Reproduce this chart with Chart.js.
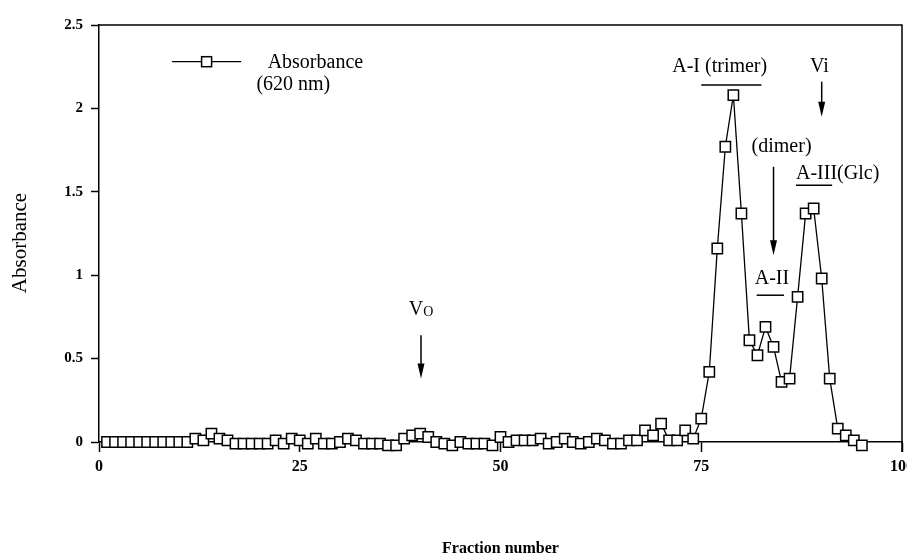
<!DOCTYPE html>
<html><head><meta charset="utf-8">
<script src="https://cdn.jsdelivr.net/npm/chart.js@4/dist/chart.umd.min.js"></script>
<style>html,body{margin:0;padding:0;background:#fff;}#wrap{width:907px;height:558px;}</style>
</head><body><div id="wrap"><canvas id="c" width="907" height="558"></canvas></div>
<script>
// ---- data ----
const fractions = [1,2,3,4,5,6,7,8,9,10,11,12,13,14,15,16,17,18,19,20,
  21,22,23,24,25,26,27,28,29,30,31,32,33,34,35,36,37,38,39,40,
  41,42,43,44,45,46,47,48,49,50,51,52,53,54,55,56,57,58,59,60,
  61,62,63,64,65,66,67,68,69,70,71,72,73,74,75,76,77,78,79,80,
  81,82,83,84,85,86,87,88,89,90,91,92,93,94,95];
const absorbance = [0,0,0,0,0,0,0,0,0,0,0,0.02,0.01,0.05,0.02,0.01,-0.01,-0.01,-0.01,-0.01,
  -0.01,0.01,-0.01,0.02,0.01,-0.01,0.02,-0.01,-0.01,0.00,0.02,0.01,-0.01,-0.01,-0.01,-0.02,-0.02,0.02,0.04,0.05,
  0.03,0.00,-0.01,-0.02,0.00,-0.01,-0.01,-0.01,-0.02,0.03,0.00,0.01,0.01,0.01,0.02,-0.01,0.00,0.02,0.00,-0.01,
  0.00,0.02,0.01,-0.01,-0.01,0.01,0.01,0.07,0.04,0.11,0.01,0.01,0.07,0.02,0.14,0.42,1.16,1.77,2.08,1.37,
  0.61,0.52,0.69,0.57,0.36,0.38,0.87,1.37,1.40,0.98,0.38,0.08,0.04,0.01,-0.02];
const xTicks = [0,25,50,75,100];
const yTicks = [0,0.5,1,1.5,2,2.5];
const yTickLabels = ['0','0.5','1','1.5','2','2.5'];
const seriesName = 'Absorbance';
const seriesSub = '(620 nm)';
const xTitle = 'Fraction number';
const yTitle = 'Absorbance';
// annotation labels (placed in data coordinates)
const labelTexts = ['A-I (trimer)','Vi','(dimer)','A-III(Glc)','A-II'];
const labelX = [77.3, 89.7, 85.0, 86.8, 83.8];
const labelY = [2.25, 2.25, 1.77, 1.61, 0.98];
const labelAlign = ['center','center','center','left','center'];
const underlineX1 = [75.0, 86.8, 81.9];
const underlineX2 = [82.5, 91.3, 85.3];
const underlineY = [2.14, 1.54, 0.88];
const arrowX = [40.1, 90.0, 84.0];
const arrowFrom = [0.64, 2.16, 1.65];
const arrowTo = [0.38, 1.95, 1.12];

const SERIF = "'Liberation Serif','DejaVu Serif',serif";

const points = fractions.map((f,i)=>({x:f,y:absorbance[i]}));

const overlay = {
  id:'overlay',
  afterDraw(chart){
    const ctx = chart.ctx, ca = chart.chartArea;
    const xs = chart.scales.x, ys = chart.scales.y;
    const X = v=>xs.getPixelForValue(v), Y = v=>ys.getPixelForValue(v);
    ctx.save();
    // frame (top and right)
    ctx.strokeStyle='#000'; ctx.lineWidth=1.5;
    ctx.beginPath(); ctx.moveTo(ca.left,ca.top); ctx.lineTo(ca.right,ca.top); ctx.lineTo(ca.right,ca.bottom+10); ctx.stroke();
    ctx.fillStyle='#000';
    // y axis title
    ctx.save();
    ctx.translate(20, 243); ctx.rotate(-Math.PI/2);
    ctx.font='21px '+SERIF; ctx.textAlign='center'; ctx.textBaseline='middle';
    ctx.fillText(yTitle, 0, 0);
    ctx.restore();
    ctx.textBaseline='middle';
    ctx.font='20px '+SERIF;
    labelTexts.forEach((t,i)=>{
      ctx.textAlign=labelAlign[i];
      ctx.fillText(t, X(labelX[i]), Y(labelY[i]));
    });
    // Vo label
    ctx.textAlign='left';
    const vx = X(40.1), vy = Y(0.79);
    ctx.font='20px '+SERIF;
    const w1 = ctx.measureText('V').width;
    ctx.font='14px '+SERIF;
    const w2 = ctx.measureText('O').width;
    ctx.font='20px '+SERIF;
    ctx.fillText('V', vx-(w1+w2)/2, vy);
    ctx.font='14px '+SERIF;
    ctx.fillText('O', vx-(w1+w2)/2+w1, vy+2);
    // underlines
    ctx.lineWidth=1.5;
    underlineY.forEach((u,i)=>{
      ctx.beginPath(); ctx.moveTo(X(underlineX1[i]),Y(u)); ctx.lineTo(X(underlineX2[i]),Y(u)); ctx.stroke();
    });
    // arrows
    arrowX.forEach((a,i)=>{
      const x=X(a), y1=Y(arrowFrom[i]), y2=Y(arrowTo[i]);
      ctx.lineWidth=1.5;
      ctx.beginPath(); ctx.moveTo(x,y1); ctx.lineTo(x,y2-10); ctx.stroke();
      ctx.beginPath(); ctx.moveTo(x-3.5,y2-15); ctx.lineTo(x+3.5,y2-15); ctx.lineTo(x,y2); ctx.closePath(); ctx.fill();
    });
    // legend
    const ly = Y(2.28);
    ctx.lineWidth=1.3;
    ctx.beginPath(); ctx.moveTo(X(9.1),ly); ctx.lineTo(X(17.7),ly); ctx.stroke();
    ctx.fillStyle='#fff'; ctx.lineWidth=1.5;
    ctx.fillRect(X(13.4)-5,ly-5,10,10); ctx.strokeRect(X(13.4)-5,ly-5,10,10);
    ctx.fillStyle='#000';
    ctx.font='20px '+SERIF; ctx.textAlign='left';
    ctx.fillText(seriesName, X(21.0), ly+1);
    ctx.fillText(seriesSub, X(19.6), Y(2.14));
    ctx.restore();
  }
};

new Chart(document.getElementById('c'), {
  type:'line',
  data:{datasets:[{
    label: seriesName+' '+seriesSub,
    data: points,
    borderColor:'#000', borderWidth:1.3,
    pointStyle:'rect', pointRadius:7.3, pointHoverRadius:7.3,
    pointBackgroundColor:'#fff', pointBorderColor:'#000', pointBorderWidth:1.5,
    tension:0, clip:false
  }]},
  options:{
    responsive:false, animation:false, devicePixelRatio:1,
    layout:{autoPadding:false,padding:{top:25,right:5,left:0,bottom:0}},
    plugins:{legend:{display:false},tooltip:{enabled:false}},
    scales:{
      x:{type:'linear',min:0,max:100,
        afterBuildTicks:s=>{s.ticks=xTicks.map(v=>({value:v}));},
        afterFit:s=>{s.height=116;s.paddingLeft=0;s.paddingRight=0;},
        ticks:{color:'#000',font:{family:SERIF,size:16,weight:'bold'},padding:5,maxRotation:0,autoSkip:false,callback:v=>String(v)},
        grid:{drawOnChartArea:false,drawTicks:true,tickLength:10,tickColor:'#000',tickWidth:1.5},
        border:{color:'#000',width:1.5},
        title:{display:true,text:xTitle,color:'#000',font:{family:SERIF,size:16,weight:'bold'},padding:{top:0,bottom:0}}
      },
      y:{min:0,max:2.5,
        afterBuildTicks:s=>{s.ticks=yTicks.map(v=>({value:v}));},
        afterFit:s=>{s.width=99;s.paddingTop=0;s.paddingBottom=0;},
        ticks:{color:'#000',font:{family:SERIF,size:15,weight:'bold'},padding:8,autoSkip:false,callback:(v)=>yTickLabels[yTicks.indexOf(v)] ?? String(v)},
        grid:{drawOnChartArea:false,drawTicks:true,tickLength:8,tickColor:'#000',tickWidth:1.5},
        border:{color:'#000',width:1.5},
        title:{display:false,text:yTitle}
      }
    }
  },
  plugins:[overlay]
});
</script></body></html>
